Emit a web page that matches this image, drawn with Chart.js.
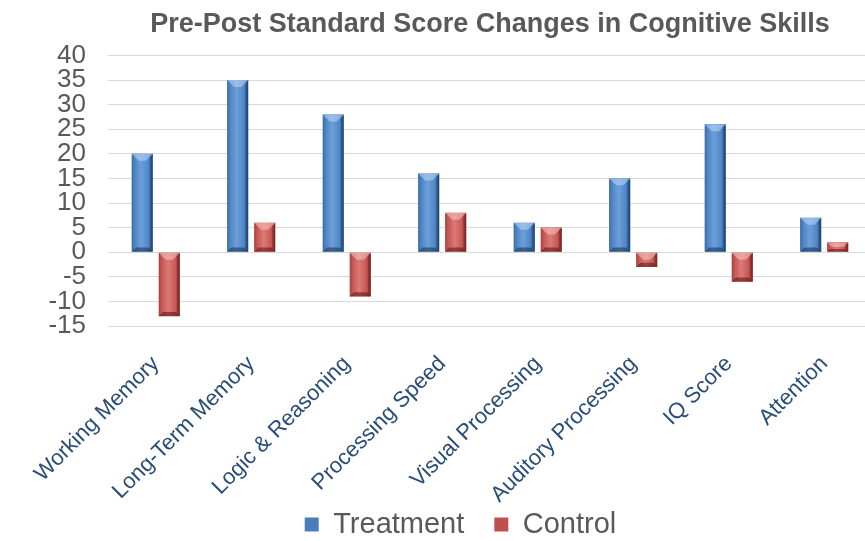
<!DOCTYPE html>
<html>
<head>
<meta charset="utf-8">
<script src="https://cdn.jsdelivr.net/npm/chart.js@4/dist/chart.umd.min.js"></script>
<style>
  html, body { margin: 0; padding: 0; background: #ffffff; overflow: hidden; }
  #wrap { width: 865px; height: 541px; overflow: hidden; position: relative; }
  #box { width: 872px; height: 541px; position: absolute; left: 0; top: 0; }
</style>
</head>
<body>
<div id="wrap"><div id="box"><canvas id="c"></canvas></div></div>
<script>
const categories = ["Working Memory", "Long-Term Memory", "Logic & Reasoning", "Processing Speed",
                    "Visual Processing", "Auditory Processing", "IQ Score", "Attention"];
const treatment = [20, 35, 28, 16, 6, 15, 26, 7];
const control = [-13, 6, -9, 8, 5, -3, -6, 2];
const yMin = -15, yMax = 40, yStep = 5;
const titleText = "Pre-Post Standard Score Changes in Cognitive Skills";

const palettes = [
  { base: "#4A7EBB", edge: "#3A6AA5", mid: "#4F86C6", light: "#6C9FDA", dark: "#27507F", hi: "rgba(190,215,245,0.55)", lo: "rgba(20,45,80,0.55)" },
  { base: "#C0504D", edge: "#A8403D", mid: "#C95855", light: "#DB7A77", dark: "#8A2E2B", hi: "rgba(250,200,198,0.55)", lo: "rgba(80,20,18,0.55)" }
];

const shadePlugin = {
  id: 'shade',
  afterDatasetsDraw(chart) {
    const ctx = chart.ctx;
    chart.data.datasets.forEach((ds, di) => {
      const meta = chart.getDatasetMeta(di);
      const pal = palettes[di];
      meta.data.forEach(el => {
        const p = el.getProps(['x', 'y', 'base', 'width'], true);
        const l = p.x - p.width / 2, r = p.x + p.width / 2, w = p.width;
        const top = Math.min(p.y, p.base), bot = Math.max(p.y, p.base);
        const h = bot - top;
        if (h <= 0) return;
        ctx.save();
        ctx.beginPath(); ctx.rect(l, top, w, h); ctx.clip();
        const g = ctx.createLinearGradient(l, 0, r, 0);
        g.addColorStop(0, pal.edge);
        g.addColorStop(0.15, pal.mid);
        g.addColorStop(0.45, pal.light);
        g.addColorStop(0.8, pal.mid);
        g.addColorStop(1, pal.dark);
        ctx.fillStyle = g;
        ctx.fillRect(l, top, w, h);
        const b = Math.min(w * 0.33, h / 2);
        ctx.fillStyle = pal.hi;
        ctx.beginPath();
        ctx.moveTo(l, top); ctx.lineTo(r, top); ctx.lineTo(r - b, top + b); ctx.lineTo(l + b, top + b); ctx.closePath();
        ctx.fill();
        ctx.fillStyle = pal.lo;
        ctx.beginPath();
        ctx.moveTo(l, bot); ctx.lineTo(r, bot); ctx.lineTo(r - b * 0.6, bot - b * 0.6); ctx.lineTo(l + b * 0.6, bot - b * 0.6); ctx.closePath();
        ctx.fill();
        ctx.fillStyle = "rgba(0,0,0,0.18)";
        ctx.beginPath();
        ctx.moveTo(r, top); ctx.lineTo(r, bot); ctx.lineTo(r - 3, bot - 3); ctx.lineTo(r - 3, top + 3); ctx.closePath();
        ctx.fill();
        ctx.restore();
      });
    });
  }
};

new Chart(document.getElementById('c'), {
  type: 'bar',
  data: {
    labels: categories,
    datasets: [
      { label: "Treatment", data: treatment, backgroundColor: palettes[0].base, borderWidth: 0,
        barPercentage: 0.78, categoryPercentage: 0.566 },
      { label: "Control", data: control, backgroundColor: palettes[1].base, borderWidth: 0,
        barPercentage: 0.78, categoryPercentage: 0.566 }
    ]
  },
  options: {
    responsive: true,
    maintainAspectRatio: false,
    animation: false,
    layout: { autoPadding: false, padding: { left: 49, right: 0, top: 2, bottom: -8 } },
    plugins: {
      title: {
        display: true, text: titleText, fullSize: false,
        color: "#595959",
        font: { family: "'Liberation Sans', Arial, sans-serif", size: 27, weight: 'bold' },
        padding: { top: 6, bottom: 15 }
      },
      legend: {
        position: 'bottom',
        labels: {
          color: "#595959",
          font: { family: "'Liberation Sans', Arial, sans-serif", size: 29 },
          boxWidth: 14, boxHeight: 14, padding: 30
        }
      },
      tooltip: { enabled: false }
    },
    scales: {
      x: {
        grid: { display: false, drawTicks: false },
        border: { display: false },
        afterFit: (scale) => {
          scale.height = 154;
          scale._computeLabelArea = () => undefined;
        },
        ticks: {
          color: "#2A4C78",
          font: { family: "'Liberation Sans', Arial, sans-serif", size: 22 },
          minRotation: 45, maxRotation: 45, padding: 25, autoSkip: false
        }
      },
      y: {
        min: yMin, max: yMax,
        grid: { color: "#D9D9D9", lineWidth: 1, drawTicks: false },
        border: { display: false },
        afterFit: (scale) => { scale.width = 59; },
        ticks: {
          stepSize: yStep, autoSkip: false, color: "#595959", padding: 22,
          font: { family: "'Liberation Sans', Arial, sans-serif", size: 26, lineHeight: 1 }
        }
      }
    }
  },
  plugins: [shadePlugin]
});
</script>
</body>
</html>
